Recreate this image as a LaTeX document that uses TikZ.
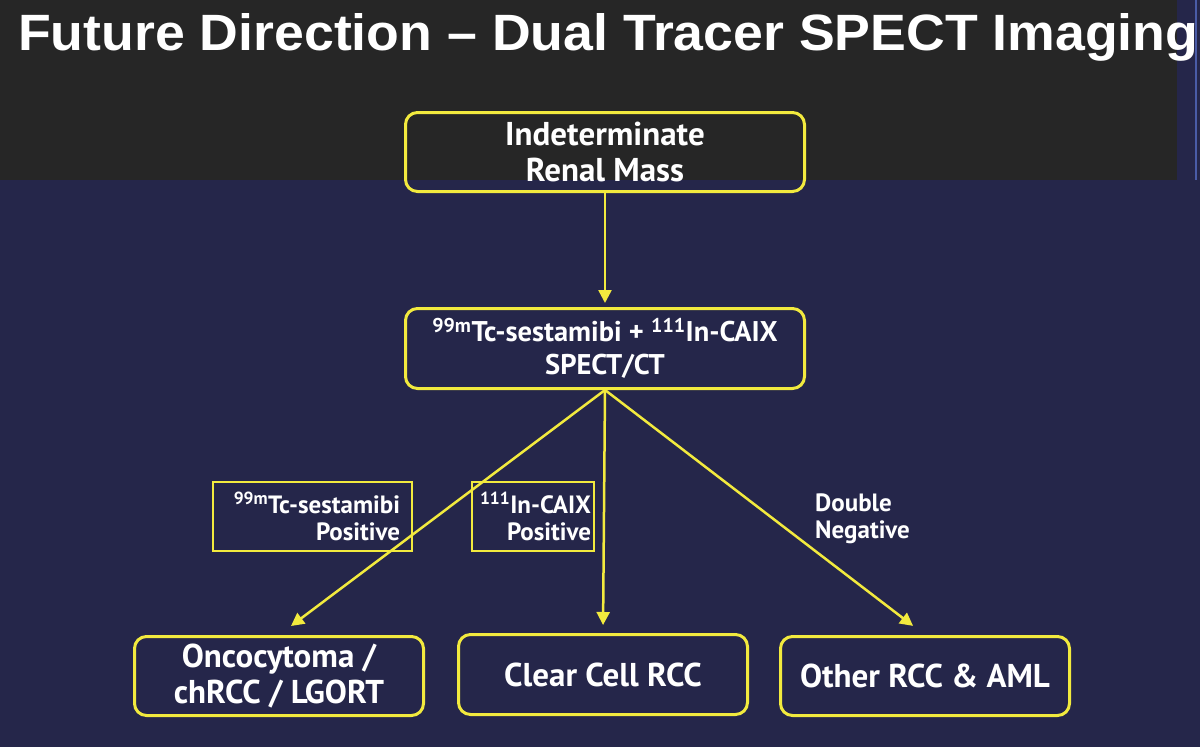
\documentclass[tikz,border=0pt]{standalone}
\usepackage{fontspec}
\setmainfont{PT Sans}
\newfontfamily\titlefont{Liberation Sans}
\usetikzlibrary{arrows.meta}
\definecolor{navy}{HTML}{25264A}
\definecolor{darkband}{HTML}{262626}
\definecolor{ylw}{HTML}{F2EA3E}
\definecolor{edgeblue}{HTML}{4A5CA8}
\begin{document}
\begin{tikzpicture}[x=1pt,y=-1pt,
  flowbox/.style={draw=ylw, line width=3pt, rounded corners=12pt, text=white,
    font=\bfseries\fontsize{33}{36}\selectfont, align=center, inner sep=0pt},
  midfont/.style={font=\bfseries\fontsize{28.5}{33}\selectfont},
  lblbox/.style={draw=ylw, line width=1.2pt, text=white, inner ysep=0pt,
    font=\bfseries\fontsize{25}{27}\selectfont, align=right},
  lbltext/.style={text=white, font=\bfseries\fontsize{25}{27}\selectfont, align=left, inner sep=0pt},
  arr/.style={draw=ylw, line width=2.5pt, -{Triangle[length=13pt,width=13pt]}}]
\useasboundingbox (0,0) rectangle (1200,747);
\fill[navy] (0,0) rectangle (1200,747);
\fill[darkband] (0,0) rectangle (1177,180);
\draw[edgeblue, line width=2pt] (1196,0) -- (1196,180);
\node[anchor=base west, inner sep=0pt, text=white] (title) at (18,50)
  {\resizebox{1180pt}{37pt}{\titlefont\bfseries Future Direction – Dual Tracer SPECT Imaging}};

\node[flowbox, minimum width=399pt, minimum height=79pt] (top) at (605,152)
  {Indeterminate\\Renal Mass};
\node[flowbox, midfont, minimum width=399pt, minimum height=80pt] (mid) at (605,348.5)
  {\textsuperscript{99m}Tc-sestamibi + \textsuperscript{111}In-CAIX\\SPECT/CT};
\node[flowbox, minimum width=289pt, minimum height=79pt] (left) at (279,676)
  {Oncocytoma /\\chRCC / LGORT};
\node[flowbox, minimum width=289pt, minimum height=80pt] (center) at (603,674.5)
  {Clear Cell RCC};
\node[flowbox, minimum width=289pt, minimum height=79pt] (right) at (925,676)
  {Other RCC \& AML};

\node[lblbox, minimum width=199pt, minimum height=69pt, text width=175pt, inner xsep=12pt] (lbl1) at (312.5,516.5)
  {\textsuperscript{99m}Tc-sestamibi\\Positive};
\node[lblbox, minimum width=122pt, minimum height=69pt, text width=116pt, inner xsep=3pt] (lbl2) at (533,516.5)
  {\textsuperscript{111}In-CAIX\\Positive};
\node[lbltext, anchor=north west] (lbl3) at (815,494) {Double\\Negative};

\draw[arr, shorten >=4pt] (top.south) -- (mid.north);
\draw[arr, shorten >=15pt] (mid.south) -- (left.north);
\draw[arr, shorten >=8pt] (mid.south) -- (center.north);
\draw[arr, shorten >=15pt] (mid.south) -- (right.north);
\end{tikzpicture}
\end{document}
